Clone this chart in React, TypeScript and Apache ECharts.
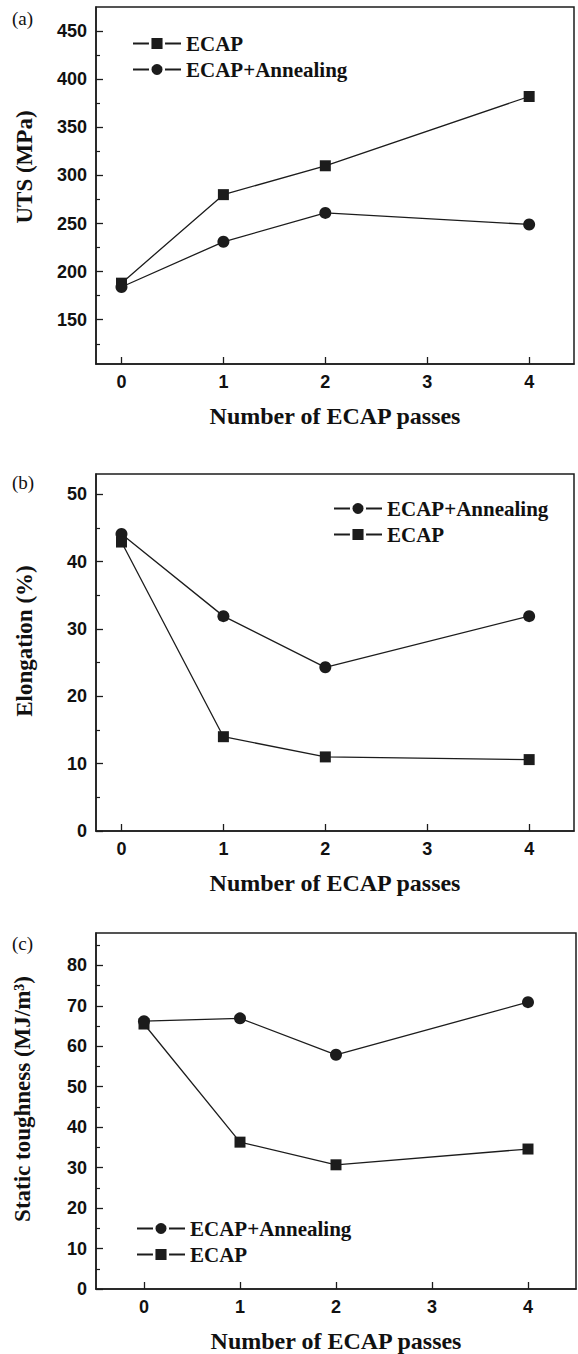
import React, { useEffect, useRef } from "react";
import * as echarts from "echarts";

// ---- data ----
const passes = [0, 1, 2, 4];
const xTickValues = [0, 1, 2, 3, 4];

const utsEcap = [188, 280, 310, 382];
const utsAnneal = [184, 231, 261, 249];
const elongEcap = [42.9, 14.0, 11.0, 10.6];
const elongAnneal = [44.1, 31.9, 24.3, 31.9];
const toughEcap = [65.5, 36.3, 30.7, 34.6];
const toughAnneal = [66.2, 66.9, 57.9, 70.9];

const utsMajor = [150, 200, 250, 300, 350, 400, 450];
const utsMinor = [125, 175, 225, 275, 325, 375, 425];
const elongMajor = [0, 10, 20, 30, 40, 50];
const elongMinor = [5, 15, 25, 35, 45];
const toughMajor = [0, 10, 20, 30, 40, 50, 60, 70, 80];
const toughMinor = [5, 15, 25, 35, 45, 55, 65, 75, 85];

const xTitle = "Number of ECAP passes";
const yTitles = ["UTS (MPa)", "Elongation (%)", "Static toughness (MJ/m³)"];
const panelTags = ["(a)", "(b)", "(c)"];

const INK = "#1c1c1c";
const SANS = "'Liberation Sans', Arial, sans-serif";
const SERIF = "'Liberation Serif', 'Times New Roman', serif";

const pairs = (xs: number[], ys: number[]) => xs.map((x, i) => [x, ys[i]]);

export default function App() {
  const ref = useRef<HTMLDivElement>(null);

  useEffect(() => {
    document.body.style.margin = "0";
    const chart = echarts.init(ref.current!, undefined, { renderer: "svg" });

    const grids = [
      { left: 96, top: 7, right: 4, height: 357 },
      { left: 96, top: 474, right: 4, height: 357 },
      { left: 96, top: 933, right: 2, height: 356 },
    ];
    const xRanges = [
      [-0.25, 4.44],
      [-0.25, 4.44],
      [-0.5, 4.5],
    ];
    const yRanges = [
      [104, 475],
      [0, 53],
      [0, 88],
    ];
    const majors = [utsMajor, elongMajor, toughMajor];
    const minors = [utsMinor, elongMinor, toughMinor];

    const xAxis = grids.map((_, i) => ({
      type: "value",
      gridIndex: i,
      min: xRanges[i][0],
      max: xRanges[i][1],
      splitLine: { show: false },
      axisLine: { show: true, onZero: false, lineStyle: { color: INK, width: 1.5 } },
      axisTick: { show: true, inside: true, length: 7, customValues: xTickValues, lineStyle: { color: INK, width: 1.3 } },
      axisLabel: {
        customValues: xTickValues,
        margin: 9,
        fontFamily: SANS,
        fontWeight: "bold",
        fontSize: 18,
        color: "#111",
      },
      name: xTitle,
      nameLocation: "middle",
      nameGap: 40,
      nameTextStyle: { fontFamily: SERIF, fontWeight: "bold", fontSize: 24, color: "#111" },
    }));

    const yAxis: any[] = [];
    grids.forEach((_, i) => {
      yAxis.push({
        type: "value",
        gridIndex: i,
        min: yRanges[i][0],
        max: yRanges[i][1],
        splitLine: { show: false },
        axisLine: { show: true, onZero: false, lineStyle: { color: INK, width: 1.5 } },
        axisTick: { show: true, inside: true, length: 7, customValues: majors[i], lineStyle: { color: INK, width: 1.3 } },
        axisLabel: {
          customValues: majors[i],
          margin: 9,
          fontFamily: SANS,
          fontWeight: "bold",
          fontSize: 18,
          color: "#111",
        },
      });
      yAxis.push({
        type: "value",
        gridIndex: i,
        position: "left",
        min: yRanges[i][0],
        max: yRanges[i][1],
        splitLine: { show: false },
        axisLine: { show: false, onZero: false },
        axisTick: { show: true, inside: true, length: 4, customValues: minors[i], lineStyle: { color: INK, width: 1.2 } },
        axisLabel: { show: false },
      });
    });

    const lineSeries = (name: string, symbol: string, xi: number, yi: number, ys: number[]) => ({
      name,
      type: "line",
      xAxisIndex: xi,
      yAxisIndex: yi,
      data: pairs(passes, ys),
      symbol,
      symbolSize: symbol === "circle" ? 12 : 11,
      lineStyle: { color: INK, width: 1.3 },
      itemStyle: { color: INK },
      z: 3,
    });

    const series = [
      lineSeries("ECAP", "rect", 0, 0, utsEcap),
      lineSeries("ECAP+Annealing", "circle", 0, 0, utsAnneal),
      lineSeries("ECAP+Annealing", "circle", 1, 2, elongAnneal),
      lineSeries("ECAP", "rect", 1, 2, elongEcap),
      lineSeries("ECAP+Annealing", "circle", 2, 4, toughAnneal),
      lineSeries("ECAP", "rect", 2, 4, toughEcap),
    ];

    const legendBase = {
      orient: "vertical",
      itemWidth: 48,
      itemHeight: 17,
      itemGap: 5,
      selectedMode: false,
      itemStyle: { borderColor: "#fff", borderWidth: 2.5 },
      textStyle: { fontFamily: SERIF, fontWeight: "bold", fontSize: 21, color: "#111" },
    };
    const legend = [
      { ...legendBase, left: 127, top: 28, data: ["ECAP", "ECAP+Annealing"] },
      { ...legendBase, left: 328, top: 493, data: ["ECAP+Annealing", "ECAP"] },
      { ...legendBase, left: 131, top: 1213, data: ["ECAP+Annealing", "ECAP"] },
    ];

    const yNamePos = [
      [24, 167],
      [24, 641],
      [22, 1099],
    ];
    const tagPos = [
      [12, 18],
      [12, 482],
      [12, 943],
    ];
    const graphic: any[] = [];
    yTitles.forEach((t, i) => {
      graphic.push({
        type: "text",
        x: yNamePos[i][0],
        y: yNamePos[i][1],
        rotation: Math.PI / 2,
        style: {
          text: t,
          font: `bold 23px ${SERIF}`,
          fill: "#111",
          textAlign: "center",
          textVerticalAlign: "middle",
        },
      });
    });
    panelTags.forEach((t, i) => {
      graphic.push({
        type: "text",
        x: tagPos[i][0],
        y: tagPos[i][1],
        style: {
          text: t,
          font: `19px ${SERIF}`,
          fill: "#111",
          textAlign: "left",
          textVerticalAlign: "middle",
        },
      });
    });

    chart.setOption({
      animation: false,
      backgroundColor: "#fff",
      grid: grids.map((g) => ({ ...g, show: true, borderColor: INK, borderWidth: 1.5, backgroundColor: "transparent" })),
      xAxis,
      yAxis,
      legend,
      series,
      graphic,
    });

    return () => chart.dispose();
  }, []);

  return <div ref={ref} style={{ position: "absolute", left: 0, top: 0, width: 578, height: 1354 }} />;
}
